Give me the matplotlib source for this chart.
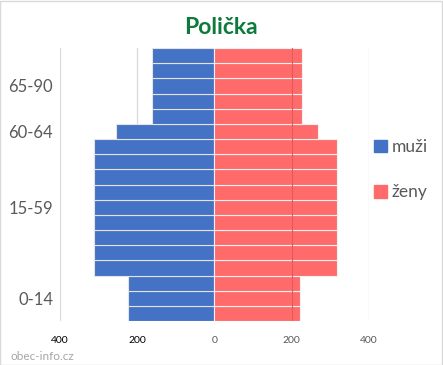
import numpy as np
import matplotlib.pyplot as plt
from matplotlib.patches import Patch, Rectangle

# age groups and how many 5-year rows each one takes (bottom to top)
age_groups = ["0-14", "15-59", "60-64", "65-90"]
rows_per_group = [3, 9, 1, 5]

# one value per 5-year row, bottom to top
men = [225, 225, 225,
       313, 313, 313, 313, 313, 313, 313, 313, 313,
       255,
       162, 162, 162, 162, 162]
women = [221, 221, 221,
         317, 317, 317, 317, 317, 317, 317, 317, 317,
         268,
         226, 226, 226, 226, 226]

xticks = [-400, -200, 0, 200, 400]

BLUE = "#4472C4"
RED = "#FF6B6B"
GRID = "#D9D9D9"
TEXT = "#595959"

plt.rcParams["font.family"] = ["Lato", "DejaVu Sans"]

fig = plt.figure(figsize=(4.43, 3.65), dpi=100)
ax = fig.add_axes([0.1354, 0.1205, 0.6975, 0.748])

y = np.arange(len(men))
ax.barh(y, -np.array(men), height=1.0, color=BLUE, edgecolor="#E4E4E4",
        linewidth=0.8, zorder=2, label="muži")
ax.barh(y, women, height=1.0, color=RED, edgecolor="#F2F2F2",
        linewidth=0.8, zorder=2, label="ženy")

ax.set_xlim(-400, 400)
ax.set_ylim(-0.5, len(men) - 0.5)

for x in xticks:
    if x != 0:
        ax.axvline(x, color=GRID, linewidth=0.9, zorder=1)
# the 200 gridline shows through the women bars as a darker line
ax.axvline(200, color="#E45A5A", linewidth=0.8, zorder=3)

ax.set_xticks(xticks)
ax.set_xticklabels([str(abs(v)) for v in xticks], fontsize=7.5)
for lbl, v in zip(ax.get_xticklabels(), xticks):
    lbl.set_color("black" if v < 0 else TEXT)

ends = np.cumsum(rows_per_group)
centers = ends - np.array(rows_per_group) / 2 - 0.5
ax.set_yticks(centers)
ax.set_yticklabels(age_groups, fontsize=12, color=TEXT)

ax.tick_params(axis="both", length=0)
ax.tick_params(axis="x", pad=11)
ax.tick_params(axis="y", pad=5)
for s in ax.spines.values():
    s.set_visible(False)

handles = [Patch(color=BLUE, label="muži"), Patch(color=RED, label="ženy")]
fig.legend(handles=handles, loc="center left", bbox_to_anchor=(0.845, 0.535),
           frameon=False, fontsize=12.5, handlelength=0.75, handleheight=0.75,
           handletextpad=0.25, labelspacing=1.7, labelcolor=TEXT,
           borderaxespad=0, borderpad=0)

fig.text(0.499, 0.925, "Polička", ha="center", va="center", fontsize=16.5,
         fontweight="bold", color="#0E7A3C")
fig.text(0.023, 0.022, "obec-info.cz", ha="left", va="center", fontsize=8.5,
         color="#A6A6A6")

fig.patches.append(Rectangle((0.001, 0.001), 0.997, 0.997, transform=fig.transFigure,
                             fill=False, edgecolor=GRID, linewidth=1.0))

fig.savefig("out.png", dpi=100)
